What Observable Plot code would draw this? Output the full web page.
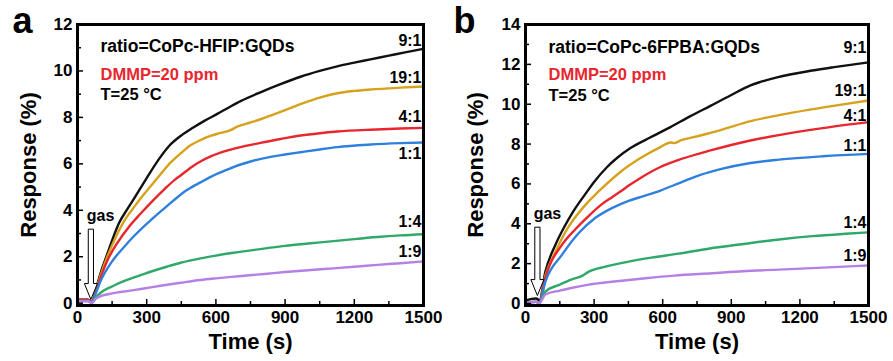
<!DOCTYPE html>
<html><head><meta charset="utf-8">
<script src="https://cdn.jsdelivr.net/npm/d3@7"></script>
<script src="https://cdn.jsdelivr.net/npm/@observablehq/plot@0.6"></script>
<style>
body{margin:0;background:#fff;}
#wrap{display:flex;width:893px;height:361px;overflow:hidden;}
</style></head><body><div id="wrap"></div>
<script>
// ---------- data ----------
const ratioNames = ["9:1", "19:1", "4:1", "1:1", "1:4", "1:9"];
const ratioColors = ["#111111", "#d6a11c", "#e8262d", "#2f80dc", "#2fa86a", "#b480e6"];

const xMajor = [0, 300, 600, 900, 1200, 1500];
const xMinor = [150, 450, 750, 1050, 1350];
const yMajorA = [0, 2, 4, 6, 8, 10, 12];
const yMinorA = [1, 3, 5, 7, 9, 11];
const yMajorB = [0, 2, 4, 6, 8, 10, 12, 14];
const yMinorB = [1, 3, 5, 7, 9, 11, 13];

const xTitle = "Time (s)";
const yTitle = "Response (%)";
const titleA = "ratio=CoPc-HFIP:GQDs";
const titleB = "ratio=CoPc-6FPBA:GQDs";
const gasText = "DMMP=20 ppm";
const tempText = "T=25 °C";

// Panel a : CoPc-HFIP:GQDs
const a91_t = [0,45,55,60,80,100,125,150,180,216,245,273,310,360,400,447,500,550,606,660,707,793,880,967,1050,1126,1200,1270,1350,1420,1500];
const a91_v = [0.15,0.15,0.1,0,0.6,1.3,2.0,2.7,3.45,4.05,4.5,4.95,5.55,6.3,6.8,7.2,7.55,7.85,8.15,8.45,8.7,9.08,9.43,9.75,10.0,10.2,10.36,10.5,10.66,10.8,10.95];
const a191_t = [0,45,55,60,80,100,150,200,250,287,316,360,403,447,490,533,576,620,663,692,750,793,837,880,967,1050,1126,1200,1270,1400,1500];
const a191_v = [0.12,0.12,0.08,0,0.55,1.2,2.5,3.5,4.2,4.68,5.02,5.55,6.05,6.45,6.8,7.02,7.2,7.33,7.45,7.6,7.78,7.92,8.08,8.24,8.57,8.85,9.04,9.14,9.2,9.28,9.33];
const a41_t = [0,45,55,60,80,100,130,173,220,273,330,374,420,447,500,533,580,620,707,793,880,967,1050,1126,1270,1400,1500];
const a41_v = [0.15,0.15,0.1,0,0.5,1.1,1.85,2.6,3.25,3.85,4.45,4.88,5.3,5.5,5.9,6.1,6.33,6.48,6.72,6.9,7.07,7.22,7.32,7.39,7.47,7.52,7.55];
const a11_t = [0,45,55,60,80,100,150,200,243,320,390,432,476,533,580,649,700,750,837,900,967,1050,1126,1270,1400,1500];
const a11_v = [0.1,0.1,0.08,0,0.45,0.95,1.8,2.4,2.87,3.6,4.2,4.55,4.88,5.2,5.45,5.75,5.95,6.1,6.3,6.4,6.5,6.62,6.72,6.83,6.89,6.92];
const a14_t = [0,45,55,60,80,100,150,215,300,390,447,533,600,677,822,900,1000,1110,1200,1300,1400,1500];
const a14_v = [0.1,0.1,0.05,0,0.25,0.45,0.72,1.0,1.3,1.58,1.74,1.93,2.05,2.17,2.37,2.47,2.57,2.67,2.76,2.85,2.92,2.97];
const a19_t = [0,45,55,60,80,100,150,215,288,360,447,533,600,700,822,900,1000,1110,1200,1300,1400,1500];
const a19_v = [0.08,0.08,0.05,0,0.2,0.3,0.42,0.52,0.63,0.75,0.88,1.0,1.07,1.16,1.27,1.34,1.42,1.5,1.57,1.65,1.72,1.8];

// Panel b : CoPc-6FPBA:GQDs
const b91_t = [0,45,55,60,87,131,170,205,262,300,357,400,459,547,634,721,809,896,984,1020,1100,1254,1350,1500];
const b91_v = [0.15,0.25,0.2,0.1,1.6,2.95,3.85,4.55,5.5,6.1,6.85,7.3,7.8,8.34,8.85,9.4,9.92,10.44,10.94,11.09,11.35,11.69,11.86,12.1];
const b191_t = [0,45,55,60,87,131,175,262,300,350,415,503,590,634,650,678,765,853,984,1108,1325,1500];
const b191_v = [0.05,0.08,0.05,0.02,1.4,2.6,3.6,4.95,5.4,5.95,6.6,7.3,7.85,8.08,8.05,8.18,8.43,8.7,9.15,9.45,9.88,10.19];
const b41_t = [0,45,55,60,87,160,220,277,330,380,415,460,503,590,678,809,984,1108,1300,1500];
const b41_v = [0.05,0.08,0.05,0.02,1.3,2.95,3.75,4.4,4.95,5.35,5.62,5.98,6.3,6.85,7.24,7.68,8.18,8.45,8.8,9.1];
const b11_t = [0,45,55,60,87,160,230,306,380,451,520,590,678,765,853,984,1108,1300,1500];
const b11_v = [0.05,0.08,0.05,0.02,1.1,2.45,3.5,4.3,4.8,5.15,5.4,5.67,6.07,6.45,6.74,7.05,7.22,7.39,7.51];
const b14_t = [0,45,55,60,87,150,200,250,277,350,451,550,670,800,962,1100,1254,1400,1500];
const b14_v = [0.05,0.08,0.05,0.02,0.6,0.95,1.2,1.4,1.6,1.85,2.1,2.3,2.5,2.75,3.0,3.2,3.38,3.5,3.57];
const b19_t = [0,45,55,60,87,150,200,277,400,525,650,816,950,1108,1300,1500];
const b19_v = [0.05,0.08,0.05,0.02,0.45,0.65,0.78,0.95,1.12,1.27,1.4,1.52,1.62,1.7,1.8,1.91];

// label anchor values (response units) for ratio labels at right edge
const labelYA = [11.3, 9.7, 8.04, 6.43, 3.48, 2.22];
const labelYB = [12.85, 10.69, 9.43, 7.93, 4.06, 2.41];
// gas annotation (time, response)
const gasLabelA = {t: 100, v: 3.74}, gasArrowA = {t: 58, v: 3.17};
const gasLabelB = {t: 96, v: 4.5}, gasArrowB = {t: 52, v: 3.81};

// ---------- build ----------
function rowsOf(list) {
  const rows = [];
  list.forEach(([ts, vs], i) => ts.forEach((t, j) => rows.push({t, v: vs[j], s: ratioNames[i]})));
  return rows;
}
const seriesA = rowsOf([[a91_t,a91_v],[a191_t,a191_v],[a41_t,a41_v],[a11_t,a11_v],[a14_t,a14_v],[a19_t,a19_v]]);
const seriesB = rowsOf([[b91_t,b91_v],[b191_t,b191_v],[b41_t,b41_v],[b11_t,b11_v],[b14_t,b14_v],[b19_t,b19_v]]);

const hollowArrow = {
  draw(context, l) {
    const w = 2.6, hw = 6.5, hl = 16;
    context.moveTo(-w, 0);
    context.lineTo(-w, -(l - hl));
    context.lineTo(-hw, -(l - hl));
    context.lineTo(0, -l);
    context.lineTo(hw, -(l - hl));
    context.lineTo(w, -(l - hl));
    context.lineTo(w, 0);
    context.closePath();
  }
};

function panel(o) {
  const labels = ratioNames.map((n, i) => ({n, y: o.labelY[i]}));
  return Plot.plot({
    width: o.width, height: 361,
    marginLeft: o.ml, marginRight: o.mr, marginTop: 24, marginBottom: 56,
    style: {fontFamily: "'Liberation Sans', Arial, sans-serif", fontWeight: "bold", fontSize: "17px", background: "white", color: "black", overflow: "visible"},
    x: {domain: [0, 1500], axis: null},
    y: {domain: [-0.1, o.yMax], axis: null},
    color: {domain: ratioNames, range: ratioColors},
    marks: [
      Plot.line(o.data, {x: "t", y: "v", z: "s", stroke: "s", strokeWidth: 2.4, curve: "monotone-x"}),
      Plot.frame({strokeWidth: 3}),
      Plot.axisX(xMajor, {tickSize: -6, tickPadding: 11, strokeWidth: 1.5, label: null, fontSize: 17, tickFormat: d => String(d)}),
      Plot.axisX(xMinor, {tickSize: -4, strokeWidth: 1.5, label: null, tickFormat: () => ""}),
      Plot.axisY(o.yMajor, {tickSize: -6, tickPadding: 11, strokeWidth: 1.5, label: null, fontSize: 17, tickFormat: d => String(d)}),
      Plot.axisY(o.yMinor, {tickSize: -4, strokeWidth: 1.5, label: null, tickFormat: () => ""}),
      Plot.text([xTitle], {frameAnchor: "bottom", dy: 36, lineAnchor: "middle", fontSize: 22}),
      Plot.text([yTitle], {frameAnchor: "left", rotate: -90, dx: o.ytDx, textAnchor: "middle", lineAnchor: "middle", fontSize: 22}),
      Plot.text([o.letter], {frameAnchor: "top-left", dx: o.letterDx, dy: -3, textAnchor: "middle", lineAnchor: "middle", fontSize: 36}),
      Plot.text([o.title], {frameAnchor: "top-left", dx: 23, dy: o.t1, textAnchor: "start", lineAnchor: "middle", fontSize: 17.5}),
      Plot.text([gasText], {frameAnchor: "top-left", dx: 23, dy: 50, textAnchor: "start", lineAnchor: "middle", fontSize: 16.5, fill: "#e8262d"}),
      Plot.text([tempText], {frameAnchor: "top-left", dx: 23, dy: o.t3, textAnchor: "start", lineAnchor: "middle", fontSize: 16.5}),
      Plot.text(labels, {x: () => 1500, y: "y", text: "n", textAnchor: "end", dx: -2, lineAnchor: "middle", fontSize: 16}),
      Plot.vector([o.arrow], {x: "t", y: "v", length: o.arrowLen, rotate: 180, anchor: "start", shape: hollowArrow, fill: "white", stroke: "black", strokeWidth: 1}),
      Plot.text([o.gasLabel], {x: "t", y: "v", text: () => "gas", fontSize: 16, lineAnchor: "middle"})
    ]
  });
}

const wrap = document.getElementById("wrap");
wrap.appendChild(panel({width: 446, ml: 77, mr: 23, yMax: 12, data: seriesA, yMajor: yMajorA, yMinor: yMinorA,
  labelY: labelYA, letter: "a", letterDx: -55, ytDx: -49, title: titleA, t1: 22, t3: 70,
  arrow: gasArrowA, arrowLen: 70, gasLabel: gasLabelA}));
wrap.appendChild(panel({width: 447, ml: 79, mr: 25, yMax: 14, data: seriesB, yMajor: yMajorB, yMinor: yMinorB,
  labelY: labelYB, letter: "b", letterDx: -61, ytDx: -50, title: titleB, t1: 23, t3: 71,
  arrow: gasArrowB, arrowLen: 68, gasLabel: gasLabelB}));
</script></body></html>
